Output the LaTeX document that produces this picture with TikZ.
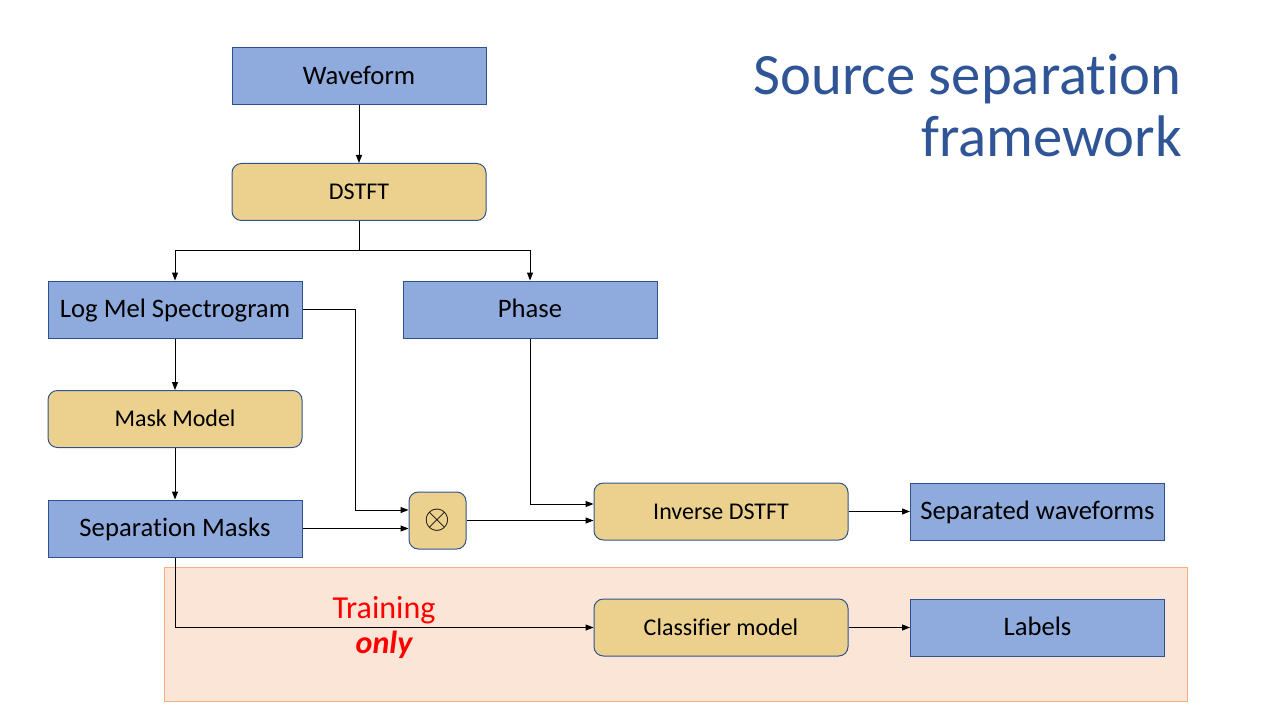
\documentclass[tikz,border=0pt]{standalone}
\usepackage{fontspec}
\setmainfont{Carlito}[Ligatures=NoCommon]
\usetikzlibrary{arrows.meta,positioning,calc}

\definecolor{boxblue}{RGB}{143,170,220}
\definecolor{boxgold}{RGB}{235,209,141}
\definecolor{edgeblue}{RGB}{47,82,143}
\definecolor{titleblue}{RGB}{47,85,151}
\definecolor{trainfill}{RGB}{251,229,214}
\definecolor{trainedge}{RGB}{244,177,131}

\begin{document}
\begin{tikzpicture}[
    x=0.75pt, y=-0.75pt,
    >={Triangle[length=6pt, width=4.5pt]},
    data box/.style={rectangle, draw=edgeblue, fill=boxblue, line width=0.75pt,
        minimum width=190.5pt, minimum height=42.75pt, inner sep=0pt,
        text height=15pt, text depth=2.5pt,
        font=\fontsize{20}{24}\selectfont},
    op box/.style={data box, fill=boxgold, rounded corners=7pt,
        text height=14pt, text depth=2.5pt,
        font=\fontsize{18}{22}\selectfont},
    note/.style={text=red, inner sep=0pt, anchor=base, font=\fontsize{24}{28}\selectfont},
    link/.style={->, line width=0.75pt},
]
\useasboundingbox (0,0) rectangle (1280,720);

% === Training region ===
\fill[trainfill, draw=trainedge, line width=0.75pt] (164,567) rectangle (1187,701);

% === Title ===
\node[anchor=north east, align=right, inner sep=0pt, text=titleblue,
    font=\fontsize{44}{46.5}\selectfont] (title) at (1182,54) {Source separation\\framework};

% === Boxes ===
\node[data box] (wave) at (359,76.5) {Waveform};
\node[op box] (stft) at (359,192) {DSTFT};
\node[data box] (logmel) at (175,309.5) {Log Mel Spectrogram};
\node[data box] (phase) at (530,309.5) {Phase};
\node[op box] (maskmodel) at (175,419) {Mask Model};
\node[data box] (masks) at (175,528.5) {Separation Masks};
\node[op box, minimum width=42.75pt, text height=, text depth=, font=\fontsize{26}{30}\selectfont] (mult) at (437.5,520.5) {$\otimes$};
\node[op box] (istft) at (721,511.5) {Inverse DSTFT};
\node[data box] (sepwave) at (1037.5,511.5) {Separated waveforms};
\node[op box] (classifier) at (721,627.5) {Classifier model};
\node[data box] (labels) at (1037.5,627.5) {Labels};

% Training label
\node[note] (train) at (384,618) {Training};
\node[note, font=\fontsize{24}{28}\selectfont\bfseries\itshape] (only) at (384,653) {only};

% === Connectors ===
\coordinate (split) at ($(stft.south)+(0,29)$);
\draw[link] (wave) -- (stft);
\draw[line width=0.75pt] (stft.south) -- (split);
\draw[link] (split) -| (logmel.north);
\draw[link] (split) -| (phase.north);
\draw[link] (logmel) -- (maskmodel);
\draw[link] (maskmodel) -- (masks);
\draw[link] (logmel.east) -- ++(53,0) |- ($(mult.west)+(0,-10.5)$);
\draw[link] (masks.east) -- (mult.west |- masks.east);
\draw[link] (phase.south) |- ($(istft.west)+(0,-7.5)$);
\draw[link] (mult.east) -- (istft.west |- mult.east);
\draw[link] (istft) -- (sepwave);
\draw[link] (masks.south) |- (classifier.west);
\draw[link] (classifier) -- (labels);

\end{tikzpicture}
\end{document}
